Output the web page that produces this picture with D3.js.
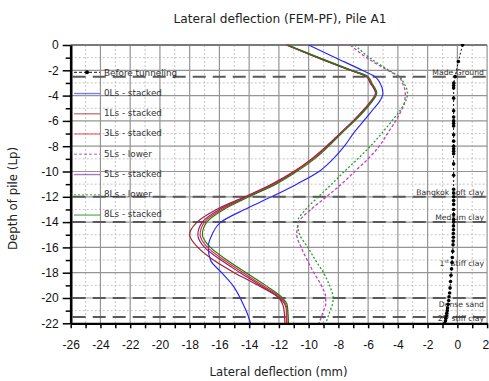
<!DOCTYPE html>
<html>
<head>
<meta charset="utf-8">
<script src="https://cdn.jsdelivr.net/npm/d3@7"></script>
<style>
  body { margin: 0; background: #fff; }
  svg { display: block; }
</style>
</head>
<body>
<svg id="chart" width="489" height="381"></svg>
<script>
// ---- data -------------------------------------------------------------
// depth below pile head (Lp) at which the FEM deflections are sampled
const depthLevels = [0, -1, -2, -2.5, -3, -3.8, -4.5, -5, -6, -7, -8, -9, -10, -11,
  -12, -13, -14, -15, -16, -17, -18, -19, -20, -20.5, -21, -22];

// lateral deflection (mm) for each tunnelling stage
const defl0LsStacked = [-10.0, -8.2, -6.4, -5.55, -5.2, -5.0, -5.25, -5.6, -6.3, -7.0, -7.6, -8.35, -9.3, -10.8,
  -12.5, -14.3, -15.9, -16.5, -16.75, -16.6, -15.85, -15.1, -14.6, -14.4, -14.2, -13.9];
const defl1LsStacked = [-11.5, -9.4, -7.2, -6.1, -5.85, -5.5, -5.85, -6.2, -7.0, -7.9, -8.8, -9.8, -11.0, -12.5,
  -14.3, -16.2, -17.5, -18.0, -17.45, -16.4, -15.0, -13.4, -12.0, -11.75, -11.65, -11.6];
const defl3LsStacked = [-11.45, -9.35, -7.15, -6.05, -5.8, -5.45, -5.8, -6.15, -6.95, -7.85, -8.7, -9.7, -10.9, -12.3,
  -14.1, -15.85, -17.0, -17.3, -16.8, -15.7, -14.4, -13.1, -11.85, -11.55, -11.45, -11.45];
const defl5LsLower = [-7.2, -6.1, -4.7, -3.95, -3.7, -3.5, -3.55, -3.7, -4.15, -4.7, -5.25, -6.0, -6.9, -7.8,
  -8.8, -9.85, -10.65, -10.8, -10.5, -10.1, -9.65, -9.15, -8.85, -8.85, -9.0, -9.3];
const defl5LsStacked = [-11.5, -9.4, -7.2, -6.1, -5.85, -5.5, -5.85, -6.2, -7.0, -7.9, -8.75, -9.75, -10.95, -12.4,
  -14.2, -16.0, -17.15, -17.45, -17.0, -15.9, -14.6, -13.25, -11.95, -11.6, -11.5, -11.5];
const defl8LsLower = [-6.9, -5.9, -4.6, -3.9, -3.6, -3.35, -3.5, -3.75, -4.4, -5.1, -5.85, -6.7, -7.6, -8.45,
  -9.35, -10.2, -10.75, -10.6, -10.05, -9.55, -9.0, -8.6, -8.35, -8.4, -8.55, -8.85];
const defl8LsStacked = [-11.4, -9.3, -7.1, -6.0, -5.75, -5.42, -5.75, -6.1, -6.9, -7.8, -8.65, -9.6, -10.8, -12.2,
  -14.0, -15.7, -16.85, -17.15, -16.6, -15.5, -14.2, -12.9, -11.75, -11.45, -11.4, -11.35];

// measured profile before tunnelling
const beforeDepth = [0, -1.3, -2.5, -3.0, -3.2, -3.4, -4.2, -5.2, -5.7, -6.0, -6.2, -6.4, -7.1, -7.6, -8.0,
  -8.2, -8.4, -8.6, -9.4, -10.3, -11.4, -11.7, -12.0, -12.3, -12.6, -13.0, -13.4, -13.8, -14.0, -14.3,
  -14.6, -14.9, -15.2, -15.5, -15.8, -16.3, -16.8, -17.2, -17.7, -18.2, -18.7, -19.2, -19.6, -19.9,
  -20.2, -20.5, -20.8, -21.0, -21.2, -21.4, -21.6, -21.8, -22.0];
const beforeDefl = [0.35, 0.07, -0.15, -0.24, -0.25, -0.25, -0.25, -0.25, -0.25, -0.25, -0.25, -0.25, -0.25,
  -0.25, -0.25, -0.25, -0.25, -0.25, -0.25, -0.25, -0.25, -0.25, -0.25, -0.25, -0.25, -0.25, -0.25,
  -0.25, -0.25, -0.26, -0.26, -0.27, -0.27, -0.28, -0.29, -0.31, -0.34, -0.36, -0.39, -0.43, -0.46,
  -0.49, -0.52, -0.56, -0.58, -0.62, -0.66, -0.68, -0.71, -0.74, -0.77, -0.8, -0.85];

// soil layer boundaries (Lp) and layer names
const layerBoundaries = [-2.5, -12, -14, -20, -21.5];
const layerNames = ["Made Ground", "Bangkok soft clay", "Medium clay", "1st stiff clay", "Dense sand", "2nd stiff clay"];
const layerLabelDepths = [-2.41, -11.83, -13.84, -17.48, -20.73, -21.84];

// axis ticks
const xTicks = [-26, -24, -22, -20, -18, -16, -14, -12, -10, -8, -6, -4, -2, 0, 2];
const yTicks = [0, -2, -4, -6, -8, -10, -12, -14, -16, -18, -20, -22];

const seriesNames = ["0Ls - stacked", "1Ls - stacked", "3Ls - stacked", "5Ls - lower",
  "5Ls - stacked", "8Ls - lower", "8Ls - stacked"];
const seriesValues = [defl0LsStacked, defl1LsStacked, defl3LsStacked, defl5LsLower,
  defl5LsStacked, defl8LsLower, defl8LsStacked];

// ---- styling ----------------------------------------------------------
const seriesStyle = {
  "0Ls - stacked": { color: "#2424ff", dash: null },
  "1Ls - stacked": { color: "#9c2424", dash: null },
  "3Ls - stacked": { color: "#ff2020", dash: null },
  "5Ls - lower":   { color: "#c040c8", dash: "3,2" },
  "5Ls - stacked": { color: "#7a2090", dash: null },
  "8Ls - lower":   { color: "#22a022", dash: "2,2" },
  "8Ls - stacked": { color: "#10800f", dash: null }
};
// drawing order (last is on top)
const drawOrder = ["0Ls - stacked", "5Ls - lower", "8Ls - lower", "1Ls - stacked",
  "5Ls - stacked", "3Ls - stacked", "8Ls - stacked"];

const SANS = "'DejaVu Sans', Verdana, sans-serif";
const NUM = "'Liberation Sans', Arial, sans-serif";

// ---- scales -----------------------------------------------------------
const plot = { left: 70.7, right: 487.1, top: 45, bottom: 323.3 };
const x = d3.scaleLinear().domain([-26, 2]).range([plot.left, plot.right]);
const y = d3.scaleLinear().domain([0, -22]).range([plot.top, plot.bottom]);

const svg = d3.select("#chart");
svg.append("rect").attr("width", 489).attr("height", 381).attr("fill", "#fff");

svg.append("defs").append("clipPath").attr("id", "plotClip")
  .append("rect")
  .attr("x", plot.left).attr("y", plot.top - 1)
  .attr("width", plot.right - plot.left + 2).attr("height", plot.bottom - plot.top + 1);

// ---- grid -------------------------------------------------------------
const grid = svg.append("g");
const minorX = d3.range(-25, 2, 2);
const minorY = d3.range(-1, -22, -2);
grid.selectAll("line.mx").data(minorX).join("line")
  .attr("x1", d => x(d)).attr("x2", d => x(d))
  .attr("y1", plot.top).attr("y2", plot.bottom)
  .attr("stroke", "#c4c4c4").attr("stroke-width", 1).attr("stroke-dasharray", "2,2");
grid.selectAll("line.my").data(minorY).join("line")
  .attr("x1", plot.left).attr("x2", plot.right)
  .attr("y1", d => y(d)).attr("y2", d => y(d))
  .attr("stroke", "#c4c4c4").attr("stroke-width", 1).attr("stroke-dasharray", "2,2");
grid.selectAll("line.gx").data(xTicks.filter(v => v > -26)).join("line")
  .attr("x1", d => x(d)).attr("x2", d => x(d))
  .attr("y1", plot.top).attr("y2", plot.bottom)
  .attr("stroke", "#959595").attr("stroke-width", 1.2);
grid.selectAll("line.gy").data(yTicks.filter(v => v > -22)).join("line")
  .attr("x1", plot.left).attr("x2", plot.right)
  .attr("y1", d => y(d)).attr("y2", d => y(d))
  .attr("stroke", d => d === 0 ? "#7a7a7a" : "#959595")
  .attr("stroke-width", d => d === 0 ? 2 : 1.2);

// ---- soil layer boundaries -------------------------------------------
svg.append("g").selectAll("line").data(layerBoundaries).join("line")
  .attr("x1", plot.left + 2).attr("x2", plot.right)
  .attr("y1", d => y(d)).attr("y2", d => y(d))
  .attr("stroke", "#5a5a5a").attr("stroke-width", 2).attr("stroke-dasharray", "13,7");

// layer names
const lab = svg.append("g").attr("font-family", SANS).attr("font-size", 7.7)
  .attr("fill", "#333").attr("text-anchor", "end");
layerNames.forEach((name, i) => {
  const t = lab.append("text").attr("x", 484).attr("y", y(layerLabelDepths[i]));
  const m = name.match(/^(\d)(st|nd|rd|th)(.*)$/);
  if (m) {
    t.append("tspan").text(m[1]);
    t.append("tspan").attr("font-size", 5).attr("dy", -3.5).text(m[2]);
    t.append("tspan").attr("dy", 3.5).text(m[3]);
  } else {
    t.text(name);
  }
});

// ---- curves -------------------------------------------------------------
const line = d3.line()
  .x(d => x(d[0])).y(d => y(d[1]))
  .curve(d3.curveMonotoneY);

const curves = svg.append("g").attr("clip-path", "url(#plotClip)");
drawOrder.forEach(name => {
  const vals = seriesValues[seriesNames.indexOf(name)];
  const pts = vals.map((v, i) => [v, depthLevels[i]]);
  const st = seriesStyle[name];
  curves.append("path")
    .attr("d", line(pts))
    .attr("fill", "none")
    .attr("stroke", st.color)
    .attr("stroke-width", st.dash ? 1.3 : 1.15)
    .attr("stroke-dasharray", st.dash);
});

// before tunnelling: dashed line with markers
const beforePts = beforeDefl.map((v, i) => [v, beforeDepth[i]]);
curves.append("path")
  .attr("d", line(beforePts))
  .attr("fill", "none").attr("stroke", "#111")
  .attr("stroke-width", 1).attr("stroke-dasharray", "2,2");
curves.append("g").selectAll("circle").data(beforePts).join("circle")
  .attr("cx", d => x(d[0])).attr("cy", d => y(d[1]))
  .attr("r", 1.8).attr("fill", "#000");

// ---- legend -------------------------------------------------------------
const legend = svg.append("g").attr("font-family", SANS).attr("font-size", 8.8).attr("fill", "#333");
const legendNames = ["Before tunneling"].concat(seriesNames);
legendNames.forEach((name, i) => {
  const cy = 72.3 + i * 20.25;
  if (i === 0) {
    legend.append("line").attr("x1", 74).attr("x2", 100).attr("y1", cy).attr("y2", cy)
      .attr("stroke", "#111").attr("stroke-width", 1).attr("stroke-dasharray", "3,2");
    legend.append("circle").attr("cx", 87).attr("cy", cy).attr("r", 2).attr("fill", "#000");
  } else {
    const st = seriesStyle[name];
    legend.append("line").attr("x1", 74).attr("x2", 100).attr("y1", cy + 1).attr("y2", cy + 1)
      .attr("stroke", st.color).attr("stroke-opacity", 0.6)
      .attr("stroke-width", st.dash ? 1.6 : 1.4)
      .attr("stroke-dasharray", st.dash);
  }
  legend.append("text").attr("x", 104).attr("y", cy + 3.2).text(name);
});

// ---- axes ---------------------------------------------------------------
const xAll = d3.range(-26, 3, 1);
const xAxis = d3.axisBottom(x)
  .tickValues(xAll)
  .tickFormat(d => (d % 2 === 0 ? String(d) : ""))
  .tickSize(5).tickSizeOuter(0).tickPadding(12);
const gx = svg.append("g").attr("transform", `translate(0,${plot.bottom})`).call(xAxis);
gx.select(".domain").attr("stroke", "#000").attr("stroke-width", 2.2);
gx.selectAll(".tick line").attr("stroke", "#000").attr("stroke-width", 1.5);
gx.selectAll(".tick text").attr("font-family", NUM).attr("font-size", 12).attr("fill", "#111");
// keep the last label inside the canvas edge
gx.selectAll(".tick text").filter(d => d === 2).attr("text-anchor", "end").attr("dx", 1.5);

const yMinorAxis = d3.axisLeft(y).tickValues(minorY).tickFormat("").tickSize(5).tickSizeOuter(0);
const gyMinor = svg.append("g").attr("transform", `translate(${plot.left},0)`).call(yMinorAxis);
gyMinor.select(".domain").remove();
gyMinor.selectAll(".tick line").attr("stroke", "#000").attr("stroke-width", 1.5);

const yAxis = d3.axisLeft(y).tickValues(yTicks).tickFormat(d => String(d))
  .tickSize(8).tickSizeOuter(0).tickPadding(4);
const gy = svg.append("g").attr("transform", `translate(${plot.left},0)`).call(yAxis);
gy.select(".domain").attr("stroke", "#000").attr("stroke-width", 2.6);
gy.selectAll(".tick line").attr("stroke", "#000").attr("stroke-width", 1.5);
gy.selectAll(".tick text").attr("font-family", NUM).attr("font-size", 12).attr("fill", "#111");

// ---- titles -------------------------------------------------------------
svg.append("text").attr("x", 280).attr("y", 23)
  .attr("text-anchor", "middle").attr("font-family", SANS).attr("font-size", 12.2).attr("fill", "#222")
  .text("Lateral deflection (FEM-PF), Pile A1");
svg.append("text").attr("x", 278.5).attr("y", 375.5)
  .attr("text-anchor", "middle").attr("font-family", SANS).attr("font-size", 11.7).attr("fill", "#222")
  .text("Lateral deflection (mm)");
svg.append("text").attr("transform", "translate(17,198.5) rotate(-90)")
  .attr("text-anchor", "middle").attr("font-family", SANS).attr("font-size", 11.8).attr("fill", "#222")
  .text("Depth of pile (Lp)");
</script>
</body>
</html>
